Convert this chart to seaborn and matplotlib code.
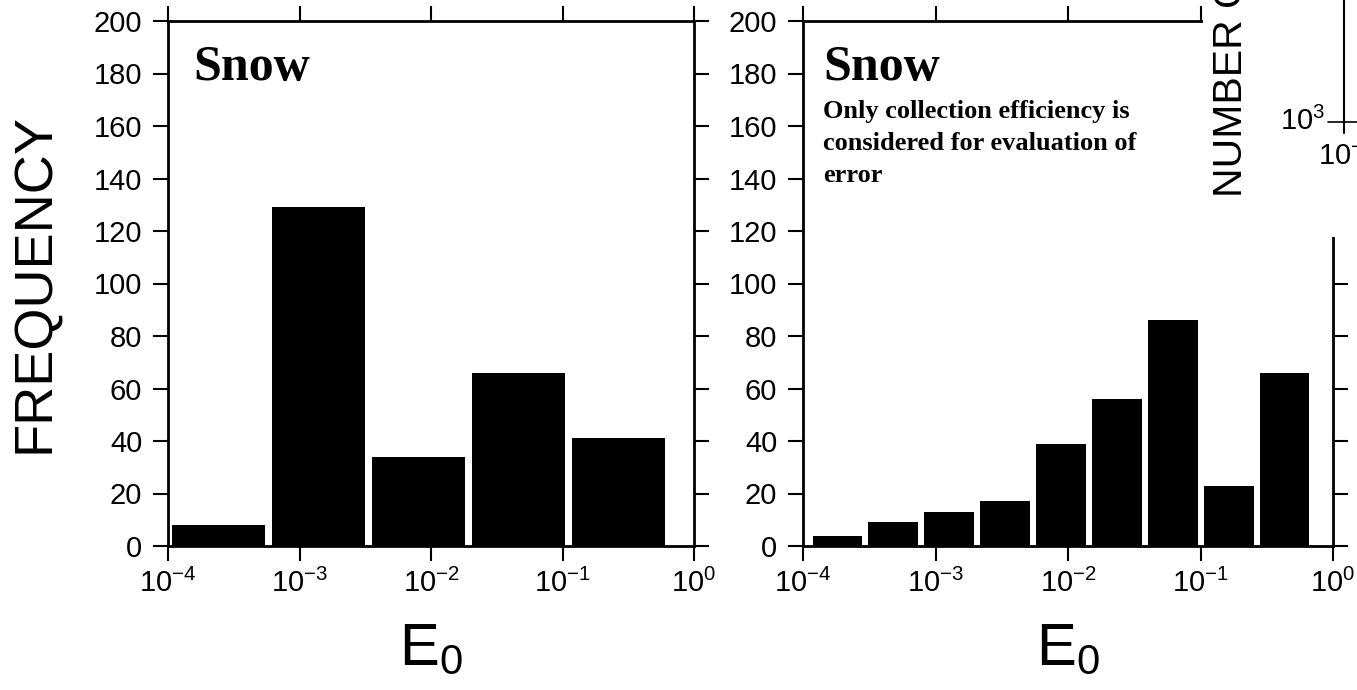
import numpy as np
import pandas as pd
import seaborn as sns
from matplotlib import pyplot as plt
from matplotlib.patches import Rectangle
from matplotlib.lines import Line2D

# 数据: 分箱边界 (log10 E0) 与频数
left_edges = [-4.015, -3.255, -2.495, -1.735, -0.975, -0.215]
left_counts = [8, 129, 34, 66, 41]

right_edges = [-3.962, -3.540, -3.118, -2.696, -2.274, -1.852, -1.430, -1.008, -0.586, -0.164]
right_counts = [4, 9, 13, 17, 39, 56, 86, 23, 66]

x_ticks = [1e-4, 1e-3, 1e-2, 1e-1, 1e0]
y_ticks = [0, 20, 40, 60, 80, 100, 120, 140, 160, 180, 200]

panel_title = 'Snow'
note = 'Only collection efficiency is\nconsidered for evaluation of\nerror'

sns.set_style('ticks')
plt.rcParams['font.family'] = ['Liberation Sans', 'DejaVu Sans']
plt.rcParams['mathtext.fontset'] = 'custom'
plt.rcParams['mathtext.rm'] = 'Liberation Sans'
plt.rcParams['mathtext.it'] = 'Liberation Sans:italic'
plt.rcParams['mathtext.bf'] = 'Liberation Sans:bold'
plt.rcParams['text.color'] = 'black'
plt.rcParams['axes.labelcolor'] = 'black'

W, H = 1357, 690
fig = plt.figure(figsize=(W / 100, H / 100), dpi=100)
ax1 = fig.add_axes([168 / W, 1 - 546 / H, 526 / W, 525 / H])
ax2 = fig.add_axes([803 / W, 1 - 546 / H, 530 / W, 525 / H])


def draw(ax, edges, counts, shrink):
    e = np.array(edges)
    centers = (e[:-1] + e[1:]) / 2
    df = pd.DataFrame({'E0': 10 ** centers, 'n': counts})
    sns.histplot(data=df, x='E0', weights='n', bins=list(edges), log_scale=True,
                 color='black', alpha=1, linewidth=0, shrink=shrink, ax=ax)
    ax.set_xlim(1e-4, 1)
    ax.set_ylim(0, 200)
    ax.set_xticks(x_ticks)
    ax.set_yticks(y_ticks)
    ax.minorticks_off()
    for s in ax.spines.values():
        s.set_visible(True)
        s.set_linewidth(2)
        s.set_color('black')
    ax.tick_params(which='both', direction='out', top=True, right=True,
                   labeltop=False, labelright=False, length=10.5, width=1.5,
                   labelsize=21, colors='black')
    ax.tick_params(axis='y', pad=8)
    ax.tick_params(axis='x', pad=6)
    ax.set_xlabel('E$_0$', fontsize=43)
    ax.xaxis.set_label_coords(0.5, -0.145)
    ax.set_ylabel('')


draw(ax1, left_edges, left_counts, 0.954)
draw(ax2, right_edges, right_counts, 0.9)

ax1.set_ylabel('FREQUENCY', fontsize=39)
ax1.yaxis.set_label_coords(-0.206, 0.5)

ax1.text(0.0475, 0.955, panel_title, transform=ax1.transAxes, ha='left', va='top',
         fontsize=36, fontweight='bold', family='Liberation Serif')
ax2.text(0.0377, 0.955, panel_title, transform=ax2.transAxes, ha='left', va='top',
         fontsize=36, fontweight='bold', family='Liberation Serif')
ax2.text(0.0377, 0.85, note, transform=ax2.transAxes, ha='left', va='top',
         fontsize=19, fontweight='bold', family='Liberation Serif', linespacing=1.5)

# 右上角被另一幅图遮挡的部分
fig.add_artist(Rectangle((1203 / W, 1 - 237 / H), 1 - 1203 / W, 237 / H,
                         transform=fig.transFigure, facecolor='white',
                         edgecolor='none', zorder=10))
fig.text(1231 / W, 1 - 197 / H, 'NUMBER OF', rotation=90, ha='center', va='bottom',
         fontsize=29.5, zorder=11)
fig.text(1325 / W, 1 - 121 / H, '10$^3$', ha='right', va='center', fontsize=21, zorder=11)
fig.text(1346 / W, 1 - 142 / H, '10$^{-1}$', ha='center', va='top', fontsize=21, zorder=11)
fig.add_artist(Line2D([1328 / W, 1], [1 - 122 / H, 1 - 122 / H], transform=fig.transFigure,
                      color='black', lw=1.2, zorder=11))
fig.add_artist(Line2D([1344 / W, 1344 / W], [1, 1 - 133 / H], transform=fig.transFigure,
                      color='black', lw=1.5, zorder=11))

fig.savefig('out.png', dpi=100)
